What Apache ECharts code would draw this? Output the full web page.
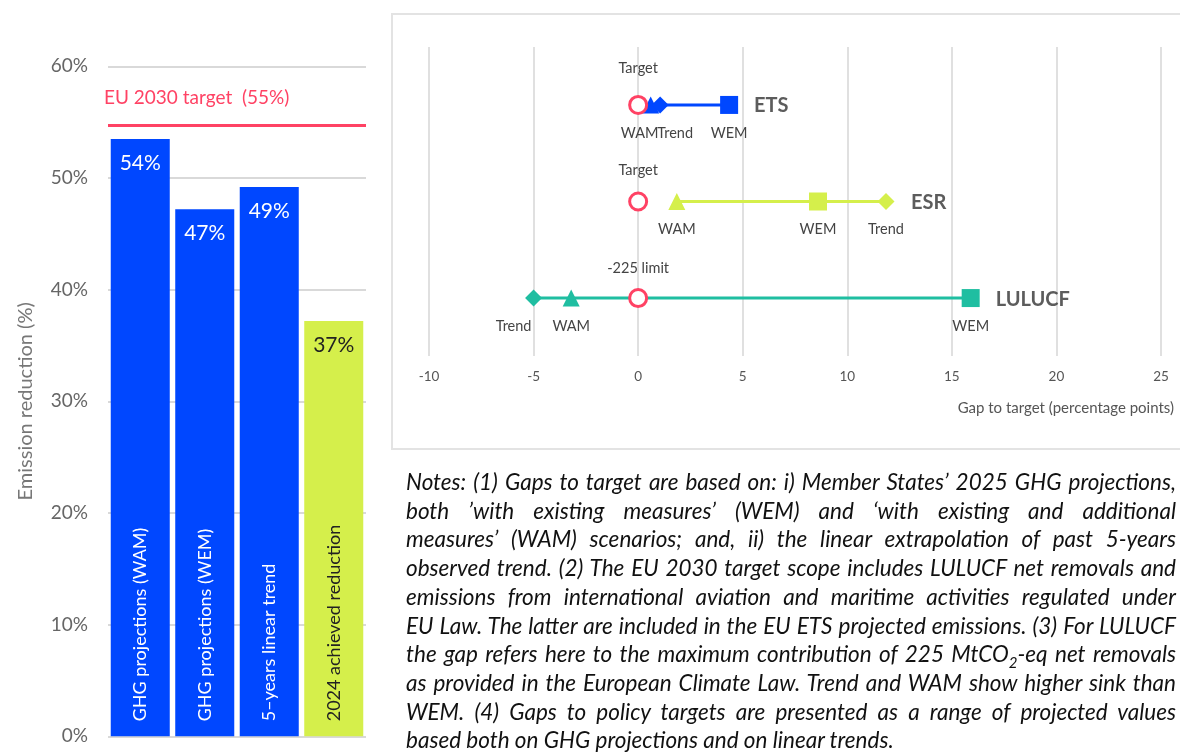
<!DOCTYPE html>
<html><head><meta charset="utf-8">
<script src="https://cdn.jsdelivr.net/npm/echarts@6/dist/echarts.min.js"></script>
<style>
html,body{margin:0;padding:0;background:#fff;}
#chart{position:absolute;left:0;top:0;width:1180px;height:755px;}
#notes{position:absolute;left:406px;top:468px;width:770px;font-family:Lato, sans-serif;font-style:italic;font-size:22.5px;line-height:28.7px;color:#111;}
#notes div{white-space:nowrap;}
</style></head>
<body>
<div id="chart"></div>
<div id="notes"></div>
<script>
// ---- Left panel: emission reduction bars ----
const barCategories = ['GHG projections (WAM)', 'GHG projections (WEM)', '5–years linear trend', '2024 achieved reduction'];
const barValues = [53.5, 47.2, 49.2, 37.2];
const barValueLabels = ['54%', '47%', '49%', '37%'];
const targetValue = 54.7;
const targetLabel = 'EU 2030 target  (55%)';
const yTicksLeft = [0, 10, 20, 30, 40, 50, 60];

// ---- Right panel: gap to target ----
const sectors = ['ETS', 'ESR', 'LULUCF'];
const gapWEM = [4.35, 8.6, 15.9];
const gapWAM = [0.6, 1.85, -3.2];
const gapTrend = [1.05, 11.85, -5.0];
const gapTarget = [0, 0, 0];
const targetNames = ['Target', 'Target', '-225 limit'];
const xTicksRight = [-10, -5, 0, 5, 10, 15, 20, 25];

const notesLines = [
  'Notes: (1) Gaps to target are based on: i) Member States’ 2025 GHG projections,',
  'both ’with existing measures’ (WEM) and ‘with existing and additional',
  'measures’ (WAM) scenarios; and, ii) the linear extrapolation of past 5-years',
  'observed trend. (2) The EU 2030 target scope includes LULUCF net removals and',
  'emissions from international aviation and maritime activities regulated under',
  'EU Law. The latter are included in the EU ETS projected emissions. (3) For LULUCF',
  'the gap refers here to the maximum contribution of 225 MtCO<sub style="font-size:15px;line-height:0">2</sub>-eq net removals',
  'as provided in the European Climate Law. Trend and WAM show higher sink than',
  'WEM. (4) Gaps to policy targets are presented as a range of projected values',
  'based both on GHG projections and on linear trends.'
];

// ---- styles ----
const BLUE = '#0047ff', LIME = '#d5ef4b', TEAL = '#1fbea1', RED = '#ff4264';
const sectorColors = [BLUE, LIME, TEAL];
const FONT = 'Lato, sans-serif';
const scen = [
  {name: 'WEM', vals: gapWEM, symbol: 'rect', size: 18},
  {name: 'WAM', vals: gapWAM, symbol: 'triangle', size: 17},
  {name: 'Trend', vals: gapTrend, symbol: 'diamond', size: 17}
];
const labelDx = {ETS: {WAM: -11, Trend: 15}, LULUCF: {Trend: -20}};
const targetDy = [37, 31, 30];

const chart = echarts.init(document.getElementById('chart'), null, {renderer: 'canvas'});

const series = [];
// bars
series.push({
  type: 'bar', xAxisIndex: 0, yAxisIndex: 0, barCategoryGap: '8.5%',
  data: barValues.map((v, i) => ({
    value: v,
    itemStyle: {color: i === 3 ? LIME : BLUE},
    label: {color: i === 3 ? '#222' : '#fff'}
  })),
  label: {
    show: true, position: 'insideBottom', rotate: 90, align: 'left', verticalAlign: 'middle',
    distance: 15, fontSize: 18, fontFamily: FONT,
    formatter: p => barCategories[p.dataIndex]
  },
  markLine: {
    silent: true, symbol: 'none',
    lineStyle: {color: RED, width: 3, type: 'solid'},
    label: {show: true, position: 'insideStartTop', formatter: targetLabel, color: RED, fontSize: 19, fontFamily: FONT, distance: [-4, 18]},
    data: [{yAxis: targetValue}]
  }
});
series.push({
  type: 'bar', xAxisIndex: 0, yAxisIndex: 0, barGap: '-100%', barCategoryGap: '8.5%',
  itemStyle: {color: 'rgba(0,0,0,0)'}, silent: true,
  data: barValues.map((v, i) => ({value: v, label: {color: i === 3 ? '#222' : '#fff'}})),
  label: {show: true, position: 'insideTop', distance: 14, fontSize: 21, fontFamily: FONT,
    formatter: p => barValueLabels[p.dataIndex]}
});

// gap lines
sectors.forEach((s, i) => {
  const pts = scen.map(sc => ({x: sc.vals[i], sc})).sort((a, b) => a.x - b.x);
  series.push({
    type: 'line', xAxisIndex: 1, yAxisIndex: 1, z: 3,
    lineStyle: {color: sectorColors[i], width: 3},
    itemStyle: {color: sectorColors[i], opacity: 1},
    data: pts.map(p => ({
      value: [p.x, i + 1],
      symbol: p.sc.symbol, symbolSize: p.sc.size,
      label: {
        show: true, position: 'inside', formatter: p.sc.name,
        offset: [((labelDx[s] || {})[p.sc.name]) || 0, 28],
        color: '#444', fontSize: 14.5, fontFamily: FONT
      }
    }))
  });
});
// targets
series.push({
  type: 'scatter', xAxisIndex: 1, yAxisIndex: 1, z: 5,
  symbol: 'circle', symbolSize: 17,
  itemStyle: {color: '#fff', borderColor: RED, borderWidth: 3, opacity: 1},
  data: gapTarget.map((v, i) => ({
    value: [v, i + 1],
    label: {show: true, position: 'inside', formatter: targetNames[i], offset: [0, -targetDy[i]],
      color: '#444', fontSize: 14.5, fontFamily: FONT}
  }))
});
// sector names
series.push({
  type: 'scatter', xAxisIndex: 1, yAxisIndex: 1, z: 6, symbolSize: 0, silent: true,
  data: sectors.map((s, i) => ({
    value: [Math.max(gapWEM[i], gapWAM[i], gapTrend[i]), i + 1],
    label: {show: true, position: 'inside', align: 'left', offset: [25, 1], formatter: s,
      color: '#333', fontSize: 20, fontWeight: 'bold', fontFamily: FONT}
  }))
});

chart.setOption({
  animation: false,
  backgroundColor: '#fff',
  textStyle: {fontFamily: FONT},
  grid: [
    {left: 108, right: 814, top: 66.3, bottom: 18.7},
    {left: 429, right: 19, top: 47, bottom: 399}
  ],
  xAxis: [
    {gridIndex: 0, type: 'category', data: barCategories,
      axisLine: {show: false}, axisTick: {show: false}, axisLabel: {show: false}},
    {gridIndex: 1, type: 'value', min: xTicksRight[0], max: xTicksRight[xTicksRight.length - 1], interval: 5,
      axisLine: {show: false}, axisTick: {show: false},
      axisLabel: {color: '#555', fontSize: 13.5, margin: 14, fontFamily: FONT},
      splitLine: {show: true, lineStyle: {color: '#d6d6d6', width: 1.5}}}
  ],
  yAxis: [
    {gridIndex: 0, type: 'value', min: yTicksLeft[0], max: yTicksLeft[yTicksLeft.length - 1], interval: 10,
      axisLine: {show: false}, axisTick: {show: false},
      axisLabel: {formatter: '{value}%', color: '#666', fontSize: 19, margin: 20, fontFamily: FONT},
      splitLine: {show: true, lineStyle: {color: '#d9d9d9', width: 2}},
      name: 'Emission reduction (%)', nameLocation: 'middle', nameGap: 72, nameRotate: 90,
      nameTextStyle: {color: '#777', fontSize: 20, fontFamily: FONT}},
    {gridIndex: 1, type: 'value', min: 0.4, max: 3.6, inverse: true, show: false}
  ],
  graphic: [
    {type: 'rect', silent: true, z: -1, shape: {x: 392, y: 14, width: 820, height: 435},
      style: {fill: 'none', stroke: '#e3e3e3', lineWidth: 2}},
    {type: 'text', silent: true, x: 1174, y: 408,
      style: {text: 'Gap to target (percentage points)', fill: '#555', font: '15px ' + FONT, textAlign: 'right', textVerticalAlign: 'middle'}}
  ],
  series: series
});

// notes (justified lines)
const notesEl = document.getElementById('notes');
notesLines.forEach((t, i) => {
  const d = document.createElement('div');
  const s = document.createElement('span');
  s.innerHTML = t;
  d.appendChild(s);
  notesEl.appendChild(d);
  if (i < notesLines.length - 1) {
    const w = s.getBoundingClientRect().width;
    const spaces = (s.textContent.match(/ /g) || []).length;
    if (w > 770) {
      s.style.letterSpacing = ((770 - w) / s.textContent.length) + 'px';
    } else if (spaces) {
      s.style.wordSpacing = ((770 - w) / spaces) + 'px';
    }
  }
});
</script>
</body></html>
